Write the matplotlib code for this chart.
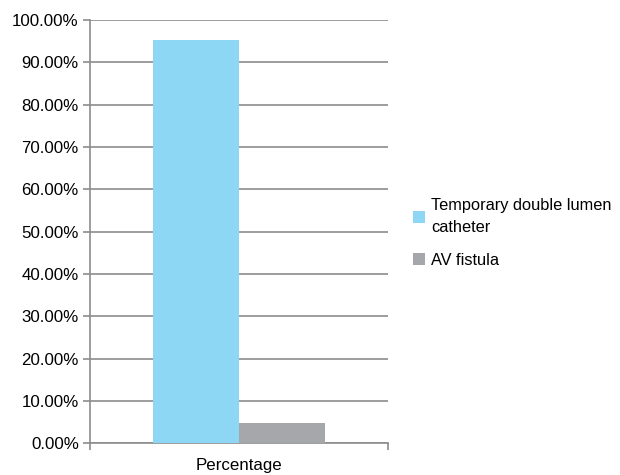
import matplotlib
matplotlib.use("Agg")
import matplotlib.pyplot as plt
from matplotlib.patches import Patch
from matplotlib.ticker import FuncFormatter, MultipleLocator

plt.rcParams['font.family'] = ['Liberation Sans', 'DejaVu Sans']

category = "Percentage"
series_names = ["Temporary double lumen\ncatheter", "AV fistula"]
series_values = [95.3, 4.7]
series_colors = ["#8dd7f5", "#a6a7ab"]

fig = plt.figure(figsize=(6.2, 4.75), dpi=100)
ax = fig.add_axes([0.145, 0.067, 0.481, 0.891])

bar_w = 0.2875
offsets = [-bar_w / 2, bar_w / 2]
for off, val, col in zip(offsets, series_values, series_colors):
    ax.bar(0 + off, val, width=bar_w, color=col, zorder=3)

ax.set_xlim(-0.5, 0.5)
ax.set_ylim(0, 100)
ax.yaxis.set_major_locator(MultipleLocator(10))
ax.yaxis.set_major_formatter(FuncFormatter(lambda v, p: f"{v:.2f}%"))
ax.grid(axis='y', color='#8c8c8c', linewidth=1.2, zorder=0)

for s in ['top', 'right']:
    ax.spines[s].set_visible(False)
ax.spines['left'].set_color('#8c8c8c')
ax.spines['left'].set_linewidth(1.2)
ax.spines['bottom'].set_color('#8c8c8c')
ax.spines['bottom'].set_linewidth(1.2)

ax.tick_params(axis='y', length=5, color='#8c8c8c', width=1.2, labelsize=12.2, pad=3)
ax.set_xticks([-0.5, 0.5])
ax.set_xticklabels(["", ""])
ax.tick_params(axis='x', length=5, color='#8c8c8c', width=1.2)
ax.text(0, -0.035, category, transform=ax.get_xaxis_transform(),
        ha='center', va='top', fontsize=12.2)

handles = [Patch(facecolor=c, edgecolor='none') for c in series_colors]
leg = fig.legend(handles, series_names, loc='center left', bbox_to_anchor=(0.666, 0.51),
                 frameon=False, fontsize=11.8, handlelength=0.75, handleheight=0.75,
                 handletextpad=0.35, labelspacing=1.1, borderpad=0, borderaxespad=0)
for t in leg.get_texts():
    t.set_linespacing(1.6)

fig.savefig("out.png", dpi=100)
